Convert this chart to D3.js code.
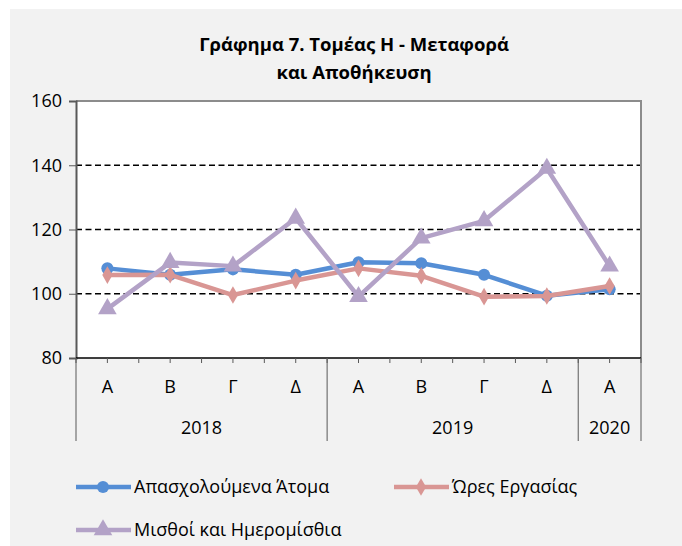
<!DOCTYPE html>
<html>
<head>
<meta charset="utf-8">
<script src="https://cdn.jsdelivr.net/npm/d3@7"></script>
<style>
  body { margin: 0; background: #fff; }
  text { font-family: "Open Sans", sans-serif; fill: #000; }
</style>
</head>
<body>
<div id="chart"></div>
<script>
// data
const quarters = ["Α", "Β", "Γ", "Δ", "Α", "Β", "Γ", "Δ", "Α"];
const years = [
  {label: "2018", from: 0, to: 4},
  {label: "2019", from: 4, to: 8},
  {label: "2020", from: 8, to: 9}
];
const employed = [107.9, 105.9, 107.6, 105.9, 109.8, 109.5, 105.9, 99.4, 101.4];
const hours = [105.8, 105.9, 99.6, 104.1, 107.9, 105.6, 99.1, 99.3, 102.4];
const wages = [95.3, 109.7, 108.6, 123.5, 99.1, 117.3, 122.7, 139.0, 108.6];
const yTicks = [80, 100, 120, 140, 160];

const series = [
  {name: "Απασχολούμενα Άτομα", values: employed, color: "#558ed5", marker: "circle"},
  {name: "Ώρες Εργασίας", values: hours, color: "#d99694", marker: "diamond"},
  {name: "Μισθοί και Ημερομίσθια", values: wages, color: "#b3a2c7", marker: "triangle"}
];

const W = 682, H = 546;
const plot = {left: 76, right: 641, top: 101, bottom: 358};
const fs = "18px";

const svg = d3.select("#chart").append("svg")
    .attr("width", W)
    .attr("height", H);

// chart area background
svg.append("rect")
    .attr("x", 10).attr("y", 9)
    .attr("width", W - 10).attr("height", H - 9)
    .attr("fill", "#f2f2f2");

svg.append("rect")
    .attr("x", plot.left).attr("y", plot.top)
    .attr("width", plot.right - plot.left).attr("height", plot.bottom - plot.top)
    .attr("fill", "#fff");

// title
const title = svg.append("text")
    .attr("text-anchor", "middle")
    .style("font-weight", "bold")
    .style("font-size", "18.5px");
title.append("tspan").attr("x", 354).attr("y", 51).text("Γράφημα 7. Τομέας Η - Μεταφορά");
title.append("tspan").attr("x", 354).attr("y", 79).text("και Αποθήκευση");

// scales
const x = d3.scaleBand()
    .domain(d3.range(quarters.length))
    .range([plot.left, plot.right]);
const y = d3.scaleLinear()
    .domain([80, 160])
    .range([plot.bottom, plot.top]);

// gridlines
svg.append("g")
  .selectAll("line")
  .data(yTicks.filter(d => d > 80 && d < 160))
  .join("line")
    .attr("x1", plot.left).attr("x2", plot.right)
    .attr("y1", d => y(d)).attr("y2", d => y(d))
    .attr("stroke", "#000")
    .attr("stroke-width", 1.6)
    .attr("stroke-dasharray", "6,3.5");

// plot border top/right
svg.append("path")
    .attr("d", `M${plot.left},${plot.top}H${plot.right}V${plot.bottom}`)
    .attr("fill", "none")
    .attr("stroke", "#8c8c8c")
    .attr("stroke-width", 2);

// y axis
const yAxis = svg.append("g")
    .attr("transform", `translate(${plot.left},0)`)
    .call(d3.axisLeft(y).tickValues(yTicks).tickSize(7).tickPadding(7));
yAxis.select(".domain").attr("stroke", "#595959").attr("stroke-width", 2);
yAxis.selectAll(".tick line").attr("stroke", "#595959");
yAxis.selectAll("text")
    .style("font-size", fs)
    .style("font-family", "'Open Sans', sans-serif")
    .attr("fill", "#000");

// x axis line
svg.append("line")
    .attr("x1", plot.left).attr("x2", plot.right)
    .attr("y1", plot.bottom).attr("y2", plot.bottom)
    .attr("stroke", "#000").attr("stroke-width", 1.5);

// small ticks at every half band
const halfTicks = d3.range(quarters.length * 2 + 1).map(i => plot.left + i * x.bandwidth() / 2);
svg.append("g")
  .selectAll("line")
  .data(halfTicks)
  .join("line")
    .attr("x1", d => d).attr("x2", d => d)
    .attr("y1", plot.bottom).attr("y2", plot.bottom + 5)
    .attr("stroke", "#595959");

// year dividers
const dividers = [0].concat(years.map(d => d.to));
svg.append("g")
  .selectAll("line")
  .data(dividers)
  .join("line")
    .attr("x1", d => d === quarters.length ? plot.right : x(d))
    .attr("x2", d => d === quarters.length ? plot.right : x(d))
    .attr("y1", plot.bottom).attr("y2", 441)
    .attr("stroke", "#595959").attr("stroke-width", 1);

// quarter labels
svg.append("g")
  .selectAll("text")
  .data(quarters)
  .join("text")
    .attr("x", (d, i) => x(i) + x.bandwidth() / 2)
    .attr("y", 393)
    .attr("text-anchor", "middle")
    .style("font-size", fs)
    .text(d => d);

// year labels
svg.append("g")
  .selectAll("text")
  .data(years)
  .join("text")
    .attr("x", d => (x(d.from) + (d.to === quarters.length ? plot.right : x(d.to))) / 2)
    .attr("y", 434)
    .attr("text-anchor", "middle")
    .style("font-size", fs)
    .text(d => d.label);

// markers
const symbols = {
  circle: d3.symbol().type(d3.symbolCircle).size(115),
  diamond: d3.symbol().type(d3.symbolDiamond).size(90),
  triangle: d3.symbol().type(d3.symbolTriangle).size(150)
};

const line = d3.line()
    .x((d, i) => x(i) + x.bandwidth() / 2)
    .y(d => y(d));

series.forEach(s => {
  const g = svg.append("g");
  g.append("path")
      .datum(s.values)
      .attr("d", line)
      .attr("fill", "none")
      .attr("stroke", s.color)
      .attr("stroke-width", 4.5)
      .attr("stroke-linejoin", "round");
  g.selectAll("path.m")
    .data(s.values)
    .join("path")
      .attr("class", "m")
      .attr("transform", (d, i) => `translate(${x(i) + x.bandwidth() / 2},${y(d)})`)
      .attr("d", symbols[s.marker])
      .attr("fill", s.color);
});

// legend
const legendPos = [
  {x: 76, y: 487},
  {x: 394, y: 487},
  {x: 76, y: 530}
];
series.forEach((s, i) => {
  const p = legendPos[i];
  const g = svg.append("g").attr("transform", `translate(${p.x},${p.y})`);
  g.append("line")
      .attr("x1", 0).attr("x2", 55)
      .attr("stroke", s.color).attr("stroke-width", 4.5);
  g.append("path")
      .attr("transform", "translate(27,0)")
      .attr("d", symbols[s.marker])
      .attr("fill", s.color);
  g.append("text")
      .attr("x", 58)
      .attr("y", 6)
      .style("font-size", fs)
      .text(s.name);
});
</script>
</body>
</html>
